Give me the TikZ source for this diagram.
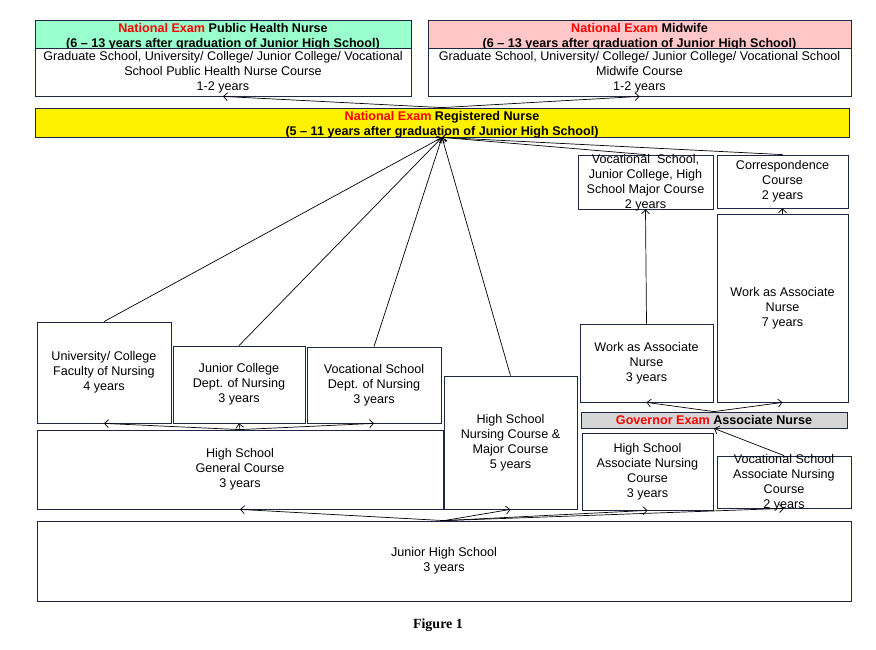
\documentclass[tikz,border=0pt]{standalone}
\usepackage{fontspec}
\setmainfont{Liberation Sans}
\newfontfamily\figfont{Liberation Serif}
\usepackage{xcolor}
\usepackage{tikz}
\usetikzlibrary{arrows.meta,shapes}
\definecolor{boxline}{RGB}{28,40,68}
\definecolor{phngreen}{RGB}{153,255,204}
\definecolor{mwpink}{RGB}{255,199,199}
\definecolor{govgray}{RGB}{214,214,214}
\newcommand{\exam}[1]{\textcolor{red}{#1}}

\begin{document}
\begin{tikzpicture}[x=1pt, y=-1pt, >={Straight Barb[length=4pt,width=8pt]}, line width=0.7pt,
  box/.style={draw=boxline, line width=0.8pt, rectangle, align=center, inner sep=0pt, fill=white,
    font=\fontsize{12.6}{15}\selectfont},
  head/.style={box, text height=27pt, text depth=0.5pt, font=\bfseries\fontsize{12.6}{15}\selectfont}]
\useasboundingbox (0,0) rectangle (876,649);

\node[head, fill=phngreen, minimum width=376, minimum height=28] (phnh) at (223,34) {\exam{National Exam} Public Health Nurse\\(6 -- 13 years after graduation of Junior High School)};
\node[box, minimum width=376, minimum height=48] (phnb) at (223,72) {Graduate School, University/ College/ Junior College/ Vocational\\School Public Health Nurse Course\\1-2 years};
\node[head, fill=mwpink, minimum width=423, minimum height=28] (mwh) at (639.5,34) {\exam{National Exam} Midwife\\(6 -- 13 years after graduation of Junior High School)};
\node[box, minimum width=423, minimum height=48] (mwb) at (639.5,72) {Graduate School, University/ College/ Junior College/ Vocational School\\Midwife Course\\1-2 years};
\node[head, fill=yellow, minimum width=814, minimum height=29] (rn) at (442,122.5) {\exam{National Exam} Registered Nurse\\(5 -- 11 years after graduation of Junior High School)};

\node[box, text height=53pt, text depth=1pt, minimum width=135, minimum height=54] (vm) at (645.5,182) {Vocational\ \ School,\\Junior College, High\\School Major Course\\2 years};
\node[box, minimum width=131, minimum height=53] (corr) at (782.5,181.5) {Correspondence\\Course\\2 years};
\node[box, minimum width=131, minimum height=188] (work7) at (782.5,308) {Work as Associate\\Nurse\\7 years};
\node[box, minimum width=133, minimum height=78] (work3) at (646.5,363) {Work as Associate\\Nurse\\3 years};

\node[box, minimum width=134, minimum height=101] (univ) at (104,372.5) {University/ College\\Faculty of Nursing\\4 years};
\node[box, minimum width=132, minimum height=77] (jc) at (239,384.5) {Junior College\\Dept. of Nursing\\3 years};
\node[box, minimum width=134, minimum height=76] (vs) at (374,385) {Vocational School\\Dept. of Nursing\\3 years};
\node[box, minimum width=133, minimum height=133] (hsn) at (510.5,442.5) {High School\\Nursing Course \&\\Major Course\\5 years};
\node[head, text height=9pt, text depth=0pt, fill=govgray, minimum width=266, minimum height=16] (gov) at (714,420) {\exam{Governor Exam} Associate Nurse};
\node[box, minimum width=406, minimum height=79] (hsg) at (240,469.5) {High School\\General Course\\3 years};
\node[box, minimum width=131, minimum height=77] (hsa) at (647.5,471.5) {High School\\Associate Nursing\\Course\\3 years};
\node[box, text height=52pt, text depth=0pt, minimum width=134, minimum height=52] (vsa) at (784,482) {Vocational School\\Associate Nursing\\Course\\2 years};
\node[box, minimum width=814, minimum height=80] (jhs) at (444,561) {Junior High School\\3 years};

\node[font=\figfont\bfseries\fontsize{14}{16}\selectfont] (fig) at (438,625) {Figure 1};

\path[->]
(rn.north) edge (phnb.south)
(rn.north) edge (mwb.south)

(univ.north) edge (rn.south)
(jc.north) edge (rn.south)
(vs.north) edge (rn.south)
(hsn.north) edge (rn.south)
(vm.north) edge (rn.south)
(corr.north) edge (rn.south)

(hsg.north) edge (univ.south)
(hsg.north) edge (jc.south)
(hsg.north) edge (vs.south)

(jhs.north) edge (hsg.south)
(jhs.north) edge (hsn.south)
(jhs.north) edge (hsa.south)
(jhs.north) edge (vsa.south)

(vsa.north) edge (gov.south)
(gov.north) edge (work3.south)
(gov.north) edge (work7.south)
(work3.north) edge (vm.south)
(work7.north) edge (corr.south);
\end{tikzpicture}
\end{document}
